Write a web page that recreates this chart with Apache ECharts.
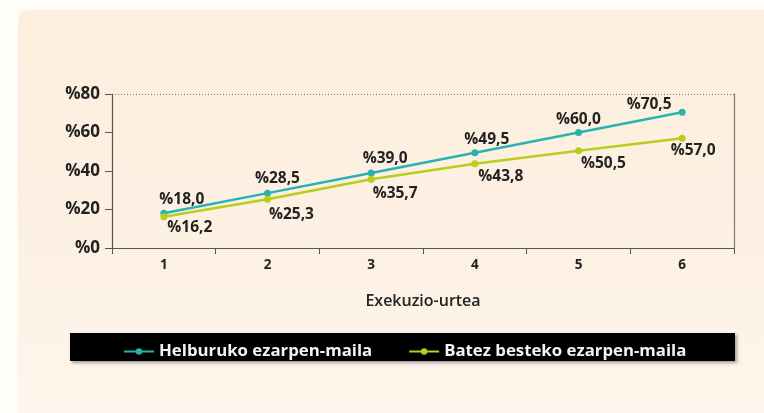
<!DOCTYPE html>
<html>
<head>
<meta charset="utf-8">
<script src="https://cdn.jsdelivr.net/npm/echarts@6/dist/echarts.min.js"></script>
<style>
  html, body { margin: 0; padding: 0; background: #fffdf9; }
  #chart { width: 764px; height: 413px; }
</style>
</head>
<body>
<div id="chart"></div>
<script>
// data
const years = ['1', '2', '3', '4', '5', '6'];
const targetRate = [18.0, 28.5, 39.0, 49.5, 60.0, 70.5];
const averageRate = [16.2, 25.3, 35.7, 43.8, 50.5, 57.0];
const yTicks = [0, 20, 40, 60, 80];
const seriesNames = ['Helburuko ezarpen-maila', 'Batez besteko ezarpen-maila'];
const xName = 'Exekuzio-urtea';

const teal = '#29b3ae';
const lime = '#b8cd1c';
const font = 'Open Sans';

// label nudges, per point
const tealShift = [[18, -14], [10, -15], [14, -14], [12, -13], [0, -13], [-33, -8]];
const limeShift = [[26, 11], [24, 15], [24, 14], [26, 13], [25, 13], [11, 12]];

const fmt = v => '%' + v.toFixed(1).replace('.', ',');

function buildPoints(values, shifts) {
  return values.map((v, i) => ({
    value: v,
    label: { offset: shifts[i] }
  }));
}

const chart = echarts.init(document.getElementById('chart'));

const labelStyle = {
  show: true,
  position: 'inside',
  fontFamily: font,
  fontWeight: 700,
  fontSize: 15.5,
  color: '#222',
  formatter: p => fmt(p.value)
};

const option = {
  animation: false,
  graphic: [
    {
      type: 'rect',
      z: -10,
      shape: { x: 18, y: 10, width: 760, height: 420, r: [10, 0, 0, 0] },
      style: {
        fill: new echarts.graphic.LinearGradient(0, 0, 0, 1, [
          { offset: 0, color: '#fdeedd' },
          { offset: 0.6, color: '#fdf1e4' },
          { offset: 1, color: '#fef6ed' }
        ])
      }
    },
    {
      type: 'rect',
      z: -5,
      shape: { x: 70, y: 333, width: 665, height: 28 },
      style: {
        fill: '#000',
        shadowBlur: 3,
        shadowOffsetX: 2,
        shadowOffsetY: 2,
        shadowColor: 'rgba(0,0,0,0.35)'
      }
    }
  ],
  grid: { left: 112, right: 30, top: 94, bottom: 165 },
  legend: {
    left: 118,
    top: 338,
    itemWidth: 30,
    itemHeight: 8,
    itemGap: 36,
    textStyle: { color: '#f4f4f4', fontFamily: font, fontWeight: 700, fontSize: 16.8 },
    data: seriesNames
  },
  xAxis: {
    type: 'category',
    data: years,
    boundaryGap: true,
    name: xName,
    nameLocation: 'middle',
    nameGap: 45,
    nameTextStyle: { fontFamily: font, fontWeight: 600, fontSize: 16, color: '#222' },
    axisLine: { lineStyle: { color: '#555', width: 1.2 } },
    axisTick: { show: true, length: 6, lineStyle: { color: '#555' } },
    axisLabel: { margin: 10, fontFamily: font, fontWeight: 700, fontSize: 13.5, color: '#222' }
  },
  yAxis: [
    {
      type: 'value',
      min: 0,
      max: 80,
      interval: 20,
      axisLine: { show: true, lineStyle: { color: '#555', width: 1.2 } },
      axisTick: { show: true, length: 7, lineStyle: { color: '#555' } },
      // only the top line (80) is drawn, dotted
      splitLine: {
        show: true,
        lineStyle: {
          color: ['transparent', 'transparent', 'transparent', 'transparent', '#777'],
          type: [1, 2],
          width: 1
        }
      },
      axisLabel: {
        margin: 12,
        fontFamily: font,
        fontWeight: 700,
        fontSize: 17,
        color: '#222',
        formatter: v => yTicks.includes(v) ? '%' + v : ''
      }
    },
    {
      type: 'value',
      min: 0,
      max: 80,
      interval: 20,
      position: 'right',
      axisLine: { show: true, lineStyle: { color: '#777', width: 1.2 } },
      axisTick: { show: false },
      axisLabel: { show: false },
      splitLine: { show: false }
    }
  ],
  series: [
    {
      name: seriesNames[0],
      type: 'line',
      data: buildPoints(targetRate, tealShift),
      symbol: 'circle',
      symbolSize: 7,
      lineStyle: { color: teal, width: 2.5 },
      itemStyle: { color: teal },
      label: labelStyle
    },
    {
      name: seriesNames[1],
      type: 'line',
      data: buildPoints(averageRate, limeShift),
      symbol: 'circle',
      symbolSize: 7,
      lineStyle: { color: lime, width: 2.5 },
      itemStyle: { color: lime },
      label: labelStyle
    }
  ]
};

chart.setOption(option);
</script>
</body>
</html>
